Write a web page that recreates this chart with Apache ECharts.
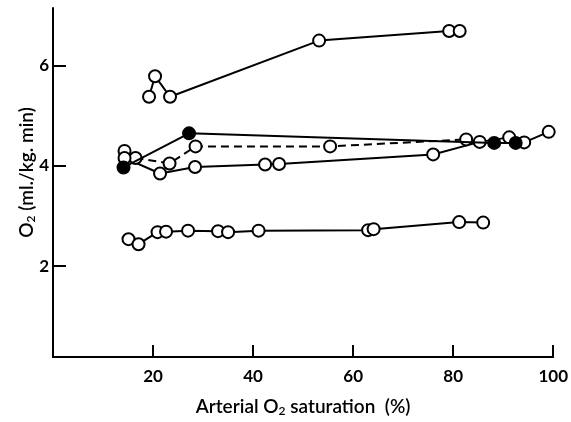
<!DOCTYPE html>
<html>
<head>
<meta charset="utf-8">
<script src="https://cdn.jsdelivr.net/npm/echarts@6/dist/echarts.min.js"></script>
<style>html,body{margin:0;padding:0;background:#fff;}#c{width:571px;height:422px;}</style>
</head>
<body>
<div id="c"></div>
<script>
// Arterial O2 saturation (%) vs O2 consumption (ml./kg. min)
const xTicks = [20, 40, 60, 80, 100];
const yTicks = [2, 4, 6];

const topSeries = [[19.2,5.38],[20.4,5.79],[23.4,5.38],[53.2,6.50],[79.2,6.69],[81.3,6.69]];
const filledSeries = [[14.1,3.97],[27.2,4.65],[88.2,4.46],[92.5,4.46]];
const dashedSeries = [[14.3,4.30],[16.5,4.16],[23.3,4.05],[28.5,4.39],[55.4,4.39],[82.6,4.53]];
const lowerMidSeries = [[14.3,4.16],[21.4,3.85],[28.4,3.98],[42.4,4.03],[45.2,4.04],[76.0,4.23],[85.3,4.48],[91.2,4.57],[94.2,4.47],[99.1,4.68]];
const bottomSeries = [[15.1,2.54],[17.1,2.44],[20.9,2.68],[22.6,2.69],[27.0,2.71],[33.0,2.70],[35.0,2.68],[41.1,2.71],[63.0,2.72],[64.1,2.74],[81.2,2.88],[86.0,2.87]];

const FONT = 'Lato';
function lineSeries(data, opts) {
  opts = opts || {};
  return {
    type: 'line',
    data: data,
    symbol: 'circle',
    symbolSize: 12,
    showAllSymbol: true,
    z: opts.z || 2,
    lineStyle: {color: '#000', width: 2, type: opts.dashed ? [8, 5] : 'solid'},
    itemStyle: {color: opts.filled ? '#000' : '#fff', borderColor: '#000', borderWidth: 2},
    emphasis: {disabled: true},
    animation: false
  };
}

const chart = echarts.init(document.getElementById('c'));
chart.setOption({
  backgroundColor: '#fff',
  animation: false,
  grid: {left: 53, right: 15, top: 8, bottom: 63},
  xAxis: {
    type: 'value', min: 0, max: 100,
    axisLine: {show: true, lineStyle: {color: '#000', width: 2}},
    axisTick: {show: true, inside: true, length: 12, customValues: xTicks, lineStyle: {color: '#000', width: 2}},
    axisLabel: {customValues: xTicks, color: '#000', fontFamily: FONT, fontWeight: 'bold', fontSize: 17, margin: 11},
    splitLine: {show: false},
    name: 'Arterial O{s|2} saturation  (%)',
    nameLocation: 'middle', nameGap: 39, nameMoveOverlap: false,
    nameTextStyle: {color: '#000', fontFamily: FONT, fontSize: 19, fontWeight: 600,
      rich: {s: {fontSize: 12, fontFamily: FONT, fontWeight: 600, verticalAlign: 'bottom', padding: [9,0,0,0]}}}
  },
  yAxis: {
    type: 'value', min: 0.19, max: 7.15,
    axisLine: {show: true, lineStyle: {color: '#000', width: 2}},
    axisTick: {show: true, inside: true, length: 13, customValues: yTicks, lineStyle: {color: '#000', width: 2}},
    axisLabel: {customValues: yTicks, color: '#000', fontFamily: FONT, fontWeight: 'bold', fontSize: 17, margin: 4},
    splitLine: {show: false},
    name: 'O{s|2} (ml./kg. min)',
    nameLocation: 'middle', nameGap: 16, nameMoveOverlap: false,
    nameTextStyle: {color: '#000', fontFamily: FONT, fontSize: 19, fontWeight: 600, padding: [0,0,0,20],
      rich: {s: {fontSize: 12, fontFamily: FONT, fontWeight: 600, verticalAlign: 'bottom', padding: [9,0,0,0]}}}
  },
  series: [
    lineSeries(topSeries),
    lineSeries(dashedSeries, {dashed: true}),
    lineSeries(lowerMidSeries),
    lineSeries(filledSeries, {filled: true, z: 3}),
    lineSeries(bottomSeries)
  ]
});
</script>
</body>
</html>
